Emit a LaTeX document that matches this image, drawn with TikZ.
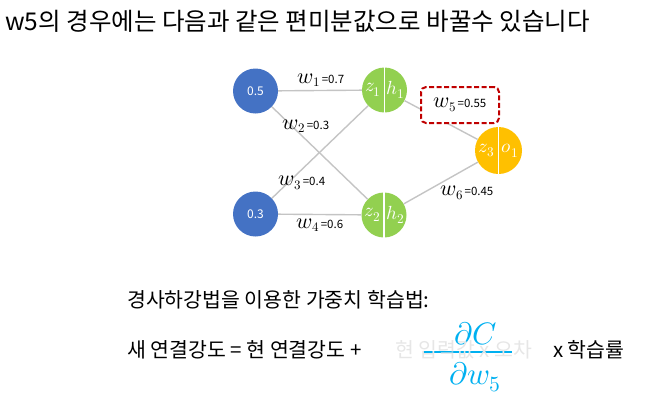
\documentclass[tikz,border=0pt]{standalone}
\usepackage{fontspec}
\usepackage{unicode-math}
\setmainfont{Noto Sans CJK KR}
\setmathfont{Latin Modern Math}
\definecolor{inblue}{HTML}{4472C4}
\definecolor{hidgreen}{HTML}{92D050}
\definecolor{outyel}{HTML}{FFC000}
\definecolor{linegray}{HTML}{C4C4C4}
\definecolor{boxred}{HTML}{C00000}
\definecolor{fracblue}{HTML}{00B0F0}
\definecolor{fadegray}{HTML}{E6E6E6}
\newcommand{\fsz}[1]{\fontsize{#1}{#1}\selectfont}
\newcommand{\wlab}[2]{{\fsz{22}$w$}\raisebox{-3.5pt}{\fsz{13}$#1$}\,{\fsz{11.5}=#2}}
\begin{document}
\begin{tikzpicture}[x=1pt,y=-1pt,
		inp/.style={circle, fill=inblue, minimum size=45pt, inner sep=0pt, text=white, font=\fsz{12}},
		hid/.style={circle, fill=hidgreen, minimum size=45pt, inner sep=0pt},
		outn/.style={circle, fill=outyel, minimum size=47pt, inner sep=0pt},
		split/.style={draw=white, line width=1.8pt},
		hlab/.style={text=white, inner sep=0pt, font=\fsz{19}},
		conn/.style={draw=linegray, line width=1.4pt},
		wnode/.style={inner sep=1pt},
		wbox/.style={draw=boxred, dash pattern=on 5pt off 2.5pt, line width=2pt, rounded corners=5pt, fill=white, minimum width=78pt, minimum height=36pt, inner sep=0pt},
		txt/.style={anchor=base west, inner sep=0pt, font=\fsz{20.5}},
		dfrac/.style={text=fracblue, inner sep=0pt, font=\fsz{31}},
		fracbar/.style={draw=fracblue, line width=2pt},
		]
		\useasboundingbox (0,0) rectangle (653,410);
		\node [anchor=base west, inner sep=0pt, font=\fsz{24.5}] (title) at (5,30) {w5의 경우에는 다음과 같은 편미분값으로 바꿀수 있습니다};
		\node [inp] (i1) at (255.5,91) {0.5};
		\node [inp] (i2) at (255.5,214) {0.3};
		\node [hid] (h1) at (384.5,90) {};
		\node [hid] (h2) at (384,215) {};
		\node [outn] (o1) at (498.5,150.5) {};
		\draw [split] (h1.north) -- (h1.south);
		\draw [split] (h2.north) -- (h2.south);
		\draw [split] (o1.north) -- (o1.south);
		\node [hlab] (z1) at ([xshift=-11.5pt]h1.center) {$z_1$};
		\node [hlab] (a1) at ([xshift=11.5pt]h1.center) {$h_1$};
		\node [hlab] (z2) at ([xshift=-11.5pt]h2.center) {$z_2$};
		\node [hlab] (a2) at ([xshift=11.5pt]h2.center) {$h_2$};
		\node [hlab] (z3) at ([xshift=-12pt]o1.center) {$z_3$};
		\node [hlab] (a3) at ([xshift=11.5pt]o1.center) {$o_1$};
		\draw [conn] (i1) -- (h1);
		\draw [conn] (i1) -- (h2);
		\draw [conn] (i2) -- (h1);
		\draw [conn] (i2) -- (h2);
		\draw [conn] (h1) -- (o1);
		\draw [conn] (h2) -- (o1);
		\node [wnode] (w1) at (321,80) {\wlab{1}{0.7}};
		\node [wnode] (w2) at (306,126) {\wlab{2}{0.3}};
		\node [wnode] (w3) at (302,183) {\wlab{3}{0.4}};
		\node [wnode] (w4) at (320,225) {\wlab{4}{0.6}};
		\node [wbox] (w5) at (460,105) {\wlab{5}{0.55}};
		\node [wnode] (w6) at (467,193) {\wlab{6}{0.45}};
		\node [txt] (t1) at (127,307) {경사하강법을 이용한 가중치 학습법:};
		\node [txt] (t2) at (127,357) {새 연결강도 = 현 연결강도 +};
		\coordinate (fl) at (423,352);
		\coordinate (fr) at (512,352);
		\draw [fracbar] (fl) -- (fr);
		\node [dfrac] (num) at (476,334) {$\partial C$};
		\node [dfrac] (den) at (475,377) {$\partial w_5$};
		\node [txt, text=fadegray] (t3) at (395,357) {현 입력값 x 오차};
		\node [txt] (t4) at (553,357) {x 학습률};
	\end{tikzpicture}
\end{document}
